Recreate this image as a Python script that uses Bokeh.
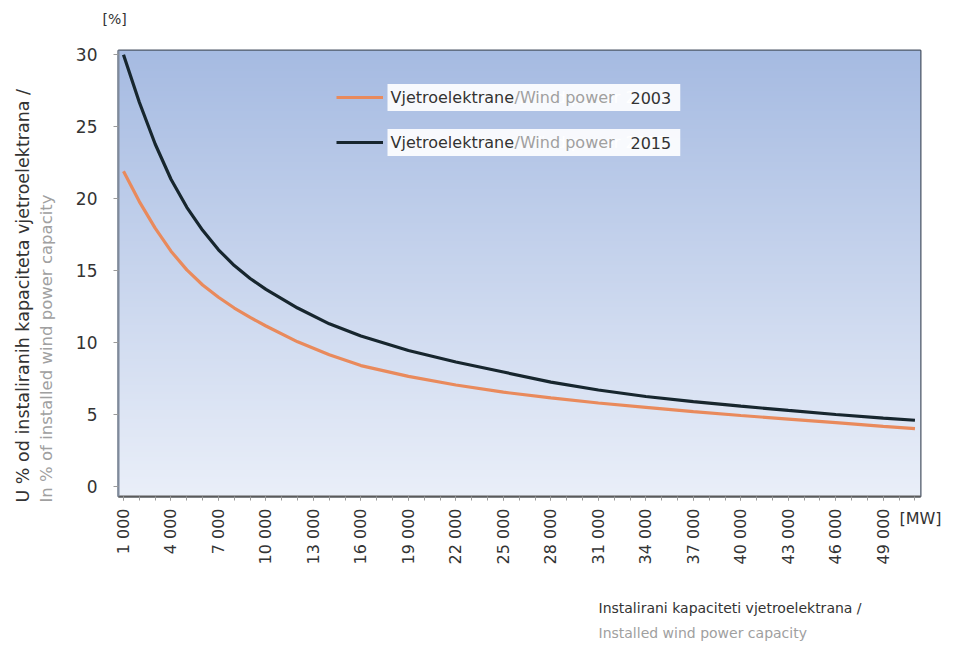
import math
import numpy as np
from bokeh.plotting import figure
from bokeh.models import (Range1d, FixedTicker, Label, Legend, LegendItem, Title,
                          LinearAxis)
from bokeh.embed import file_html
from bokeh.resources import INLINE

# ---- data ----
capacity_mw = [1000, 2000, 3000, 4000, 5000, 6000, 7000, 8000, 9000, 10000,
               12000, 14000, 16000, 19000, 22000, 25000, 28000, 31000, 34000,
               37000, 40000, 43000, 46000, 49000, 51000]
wind_2003 = [21.9, 19.8, 17.95, 16.35, 15.05, 14.0, 13.15, 12.4, 11.75, 11.15,
             10.05, 9.15, 8.4, 7.65, 7.05, 6.55, 6.15, 5.8, 5.5,
             5.2, 4.93, 4.68, 4.43, 4.18, 4.02]
wind_2015 = [30.0, 26.7, 23.8, 21.35, 19.4, 17.8, 16.45, 15.35, 14.45, 13.7,
             12.4, 11.3, 10.45, 9.45, 8.65, 7.95, 7.25, 6.7, 6.25,
             5.9, 5.58, 5.28, 5.0, 4.75, 4.6]
x_ticks = [1000, 4000, 7000, 10000, 13000, 16000, 19000, 22000, 25000, 28000,
           31000, 34000, 37000, 40000, 43000, 46000, 49000]
x_tick_labels = ["1 000", "4 000", "7 000", "10 000", "13 000", "16 000",
                 "19 000", "22 000", "25 000", "28 000", "31 000", "34 000",
                 "37 000", "40 000", "43 000", "46 000", "49 000"]
x_minor_ticks = list(range(1000, 52000, 1000))
y_ticks = [0, 5, 10, 15, 20, 25, 30]
series_names = ["2003", "2015"]

FONT = "DejaVu Sans"
DARK = "#333333"
GRAY = "#a0a0a0"

X0, X1 = 684, 51350
Y0, Y1 = -0.7, 30.3

p = figure(width=960, height=644, output_backend="svg", toolbar_location=None,
           x_range=Range1d(X0, X1), y_range=Range1d(Y0, Y1),
           min_border_left=118, min_border_right=40,
           min_border_top=50, min_border_bottom=147)
p.background_fill_color = "#d0dbef"
p.border_fill_color = "white"
p.outline_line_color = "#4d5766"
p.outline_line_width = 2
p.grid.visible = False

# vertical gradient background
N = 200
img = np.empty((N, 1), dtype=np.uint32)
view = img.view(dtype=np.uint8).reshape((N, 1, 4))
top = np.array([166, 187, 226])
bot = np.array([234, 239, 249])
for i in range(N):
    t = i / (N - 1)
    c = bot + (top - bot) * t
    view[i, 0, 0:3] = c.astype(np.uint8)
    view[i, 0, 3] = 255
p.image_rgba(image=[img], x=X0, y=Y0, dw=X1 - X0, dh=Y1 - Y0)

# lines
r2003 = p.line(capacity_mw, wind_2003, line_color="#e98a5c", line_width=3.2)
r2015 = p.line(capacity_mw, wind_2015, line_color="#17262e", line_width=3.2)

# axes styling
xa = p.xaxis[0]
xa.ticker = FixedTicker(ticks=x_ticks, minor_ticks=x_minor_ticks)
xa.major_label_overrides = {t: l for t, l in zip(x_ticks, x_tick_labels)}
xa.major_label_orientation = math.pi / 2
xa.major_label_text_font = FONT
xa.major_label_text_font_size = "16px"
xa.major_label_text_color = DARK
xa.major_label_standoff = 8
xa.axis_line_color = "#5a5a5a"
xa.axis_line_width = 2
xa.major_tick_line_color = "#9a9a9a"
xa.minor_tick_line_color = "#9a9a9a"
xa.major_tick_out = 4
xa.major_tick_in = 0
xa.minor_tick_out = 4
xa.minor_tick_in = 0
# unit label at the right end of the x axis
xa.axis_label_text_font = FONT
xa.axis_label_text_font_size = "16px"
xa.axis_label_text_font_style = "normal"
xa.axis_label_text_color = DARK
xa.axis_label_standoff = -58
xa.axis_label = "[MW]"
xa.axis_label_align = "end"

ya = p.yaxis[0]
ya.ticker = FixedTicker(ticks=y_ticks)
ya.major_label_text_font = FONT
ya.major_label_text_font_size = "17px"
ya.major_label_text_color = DARK
ya.major_label_standoff = 16
ya.axis_line_color = "#7f8a9c"
ya.axis_line_width = 2
ya.major_tick_line_color = "#9a9a9a"
ya.major_tick_out = 5
ya.major_tick_in = 0
ya.minor_tick_line_color = None


def spacer(size, tick):
    """An invisible axis used only to reserve room in a side panel."""
    return LinearAxis(ticker=FixedTicker(ticks=[tick], minor_ticks=[]),
                      axis_line_color=None,
                      major_tick_line_color=None, minor_tick_line_color=None,
                      major_tick_out=size, major_tick_in=0, minor_tick_out=0,
                      minor_tick_in=0, major_label_standoff=0,
                      major_label_overrides={tick: ""},
                      major_label_text_font_size="0px")


# legend (samples only, text overlaid with coloured labels)
legend = Legend(items=[LegendItem(label="Vjetroelektrane /Wind power " + series_names[0], renderers=[r2003]),
                       LegendItem(label="Vjetroelektrane /Wind power " + series_names[1], renderers=[r2015])],
                location=(218, 344), glyph_width=47, glyph_height=20,
                label_height=20, spacing=25, padding=0, margin=0,
                label_text_alpha=0, label_text_font_size="16px",
                background_fill_alpha=0, border_line_color=None)
p.add_layout(legend, "center")

def add_label(x, y, text, color, size="16px", **kw):
    p.add_layout(Label(x=x, y=y, x_units="screen", y_units="screen", text=text,
                       text_font=FONT, text_font_size=size, text_color=color, **kw))

pad_kw = {"padding": 4} if "padding" in Label.properties() else {}
for yy, name in [(399, series_names[0]), (354, series_names[1])]:
    p.add_layout(Label(x=269, y=yy, x_units="screen", y_units="screen",
                       text="Vjetroelektrane /Wind power " + name + "\u00a0\u00a0",
                       text_font=FONT, text_font_size="16px", text_color="white",
                       text_baseline="middle",
                       background_fill_color="white", background_fill_alpha=0.9,
                       **pad_kw))
    add_label(272, yy, "Vjetroelektrane", DARK, text_baseline="middle")
    add_label(396, yy, "/Wind power", GRAY, text_baseline="middle")
    add_label(512, yy, name, DARK, text_baseline="middle")

# unit label above the y axis
p.add_layout(spacer(22, x_ticks[0]), "above")
p.add_layout(Title(text="[%]", align="left", offset=-16, standoff=4,
                   text_font=FONT, text_font_size="14px",
                   text_font_style="normal", text_color=DARK), "above")

# y axis titles (gray nearer the axis, dark farther out)
p.add_layout(spacer(15, y_ticks[0]), "left")
p.add_layout(Title(text="In % of installed wind power capacity", align="left",
                   offset=-6, standoff=3, text_font=FONT, text_font_size="16.5px",
                   text_font_style="normal", text_color=GRAY), "left")
p.add_layout(Title(text="U % od instaliranih kapaciteta vjetroelektrana /", align="left",
                   offset=-6, standoff=2, text_font=FONT, text_font_size="17.5px",
                   text_font_style="normal", text_color=DARK), "left")

# x axis titles
p.add_layout(spacer(63, x_ticks[0]), "below")
p.add_layout(Title(text="Instalirani kapaciteti vjetroelektrana /", align="left",
                   offset=480, standoff=7, text_font=FONT, text_font_size="14px",
                   text_font_style="normal", text_color=DARK), "below")
p.add_layout(Title(text="Installed wind power capacity", align="left",
                   offset=480, standoff=7, text_font=FONT, text_font_size="14px",
                   text_font_style="normal", text_color=GRAY), "below")

open("out.html", "w").write(file_html(p, INLINE))
